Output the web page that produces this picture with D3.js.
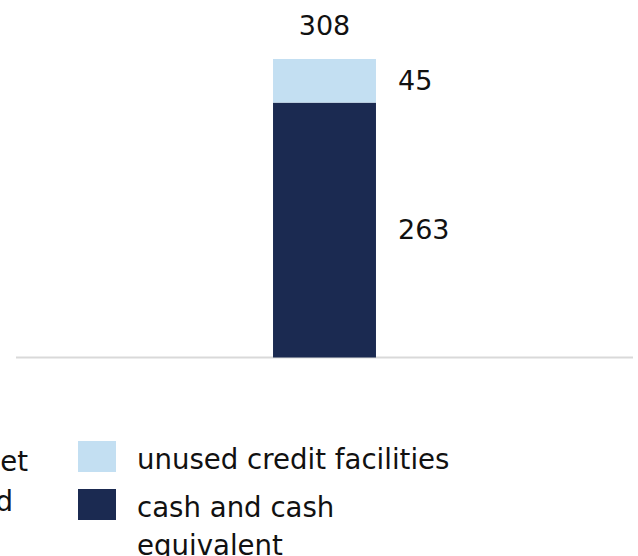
<!DOCTYPE html>
<html>
<head>
<meta charset="utf-8">
<script src="https://cdn.jsdelivr.net/npm/d3@7/dist/d3.min.js"></script>
<style>
  html, body { margin: 0; padding: 0; background: #fff; }
  svg { display: block; }
  text { font-family: "DejaVu Sans", Verdana, sans-serif; fill: #111; }
</style>
</head>
<body>
<svg id="chart" width="638" height="556"></svg>
<script>
// Liquidity composition (single stacked bar)
const categories = ["liquidity"];
const seriesKeys = ["cash", "credit"];
const seriesLabels = {
  cash: ["cash and cash", "equivalent"],
  credit: ["unused credit facilities"]
};
const cashValues = [263];
const creditValues = [45];
const totalValues = [308];
// Preceding legend entry, running off the left edge
const prevLegendLines = ["net", "and"];

const colors = { cash: "#1b2a51", credit: "#c3dff2" };

const width = 638, height = 556;
const svg = d3.select("#chart");

const rows = categories.map((c, i) => ({
  category: c, cash: cashValues[i], credit: creditValues[i], total: totalValues[i]
}));

const stack = d3.stack().keys(seriesKeys);
const layers = stack(rows);

const x = d3.scaleBand()
  .domain(categories)
  .range([16, 633])
  .paddingInner(0.714)
  .paddingOuter(0.714);

const y = d3.scaleLinear()
  .domain([0, d3.max(totalValues)])
  .range([357.5, 59]);

// Baseline
svg.append("line")
  .attr("x1", 16).attr("x2", 633)
  .attr("y1", y(0)).attr("y2", y(0))
  .attr("stroke", "#d9d9d9")
  .attr("stroke-width", 2);

// Stacked segments
const layerG = svg.selectAll("g.layer")
  .data(layers)
  .join("g")
  .attr("class", "layer")
  .attr("fill", d => colors[d.key]);

layerG.selectAll("rect")
  .data(d => d)
  .join("rect")
  .attr("x", d => x(d.data.category))
  .attr("width", x.bandwidth())
  .attr("y", d => y(d[1]))
  .attr("height", d => y(d[0]) - y(d[1]));

// Segment value labels, to the right of the bar
layerG.selectAll("text")
  .data(d => d.map(p => ({ p, key: d.key })))
  .join("text")
  .attr("x", d => x(d.p.data.category) + x.bandwidth() + 22)
  .attr("y", d => (y(d.p[0]) + y(d.p[1])) / 2 + 9)
  .attr("font-size", 27)
  .style("fill", "#111")
  .text(d => d.p.data[d.key]);

// Total above the bar
svg.selectAll("text.total")
  .data(rows)
  .join("text")
  .attr("class", "total")
  .attr("x", d => x(d.category) + x.bandwidth() / 2)
  .attr("y", d => y(d.total) - 24)
  .attr("text-anchor", "middle")
  .attr("font-size", 27)
  .text(d => d.total);

// Legend
const legendItems = ["credit", "cash"];
const legend = svg.append("g").attr("transform", "translate(78,441)");
const item = legend.selectAll("g")
  .data(legendItems)
  .join("g")
  .attr("transform", (d, i) => `translate(0,${i * 48})`);

item.append("rect")
  .attr("width", 38)
  .attr("height", 31)
  .attr("fill", d => colors[d]);

item.append("text")
  .attr("x", 59)
  .attr("y", 28)
  .attr("font-size", 27.6)
  .selectAll("tspan")
  .data(d => seriesLabels[d])
  .join("tspan")
  .attr("x", 59)
  .attr("dy", (d, i) => i === 0 ? 0 : 38)
  .text(d => d);

svg.append("text")
  .attr("x", 28)
  .attr("y", 471)
  .attr("font-size", 27.6)
  .attr("text-anchor", "end")
  .selectAll("tspan")
  .data(prevLegendLines)
  .join("tspan")
  .attr("x", (d, i) => i === 0 ? 28 : 13)
  .attr("dy", (d, i) => i === 0 ? 0 : 40)
  .text(d => d);
</script>
</body>
</html>
